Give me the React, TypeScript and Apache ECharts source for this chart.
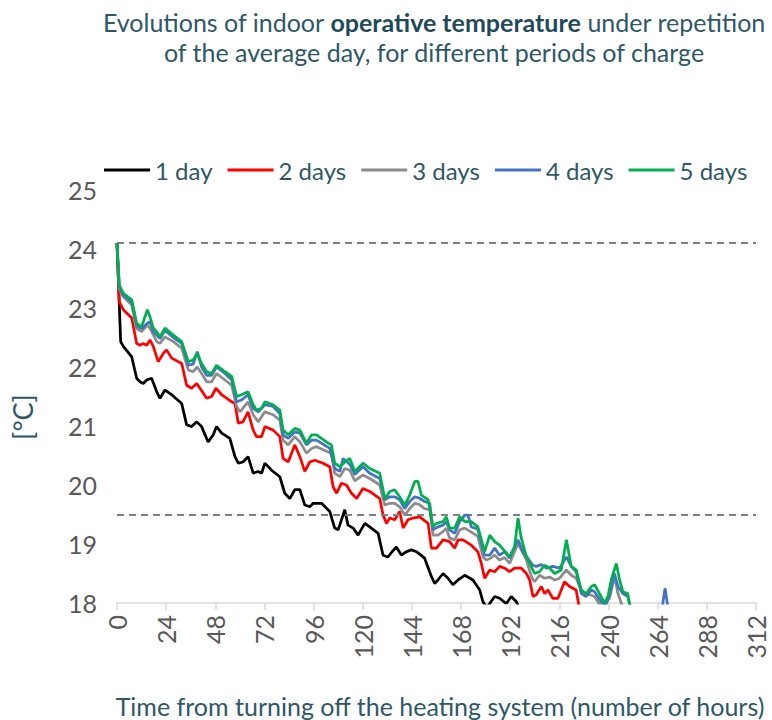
import React, { useEffect, useRef } from "react";
import * as echarts from "echarts";

const seriesNames = ["1 day", "2 days", "3 days", "4 days", "5 days"];
const seriesColors = ["#000000", "#FF0000", "#8C8C8C", "#4472C4", "#00B050"];

const titleLine1a = "Evolutions of indoor ";
const titleLine1b = "operative temperature";
const titleLine1c = " under repetition";
const titleLine2 = "of the average day, for different periods of charge";
const yName = "[°C]";
const xName = "Time from turning off the heating system (number of hours)";

const referenceLevels = [24.1, 19.5];

const oneDayHours = [0, 1.8, 3.1, 7.2, 9.6, 11.2, 12.8, 14.5, 16.9, 19.4, 21.0, 23.4, 26.7, 31.6, 34.0, 36.4, 38.9, 41.3, 44.5, 47.0, 48.6, 51.1, 55.1, 57.6, 59.2, 61.5, 64.0, 66.5, 68.9, 70.6, 72.2, 75.5, 79.5, 81.9, 84.4, 86.8, 89.3, 91.7, 94.1, 95.8, 99.9, 103.9, 106.3, 108.0, 111.2, 112.8, 115.3, 117.7, 121.0, 123.4, 127.5, 129.9, 132.3, 134.1, 136.4, 138.9, 141.3, 143.8, 146.2, 150.2, 153.5, 155.1, 156.7, 159.2, 161.6, 164.0, 166.5, 169.8, 173.8, 177.1, 178.7, 180.5, 184.4, 186.8, 190.1, 192.5, 195.0, 196.6];
const oneDayTemps = [24.1, 22.43, 22.35, 22.17, 21.81, 21.75, 21.72, 21.78, 21.81, 21.58, 21.47, 21.61, 21.53, 21.38, 21.02, 20.99, 21.07, 20.99, 20.73, 20.85, 20.99, 20.88, 20.79, 20.48, 20.37, 20.39, 20.48, 20.2, 20.23, 20.2, 20.37, 20.25, 20.14, 19.86, 19.77, 19.92, 19.92, 19.66, 19.63, 19.69, 19.69, 19.55, 19.27, 19.24, 19.58, 19.32, 19.27, 19.15, 19.35, 19.29, 19.18, 18.81, 18.78, 18.86, 18.95, 18.81, 18.87, 18.9, 18.87, 18.76, 18.45, 18.33, 18.39, 18.5, 18.42, 18.31, 18.39, 18.47, 18.39, 18.22, 18.02, 17.92, 18.11, 18.08, 17.99, 18.11, 18.02, 17.9];

const twoDaysHours = [0, 1.1, 3.1, 7.2, 9.6, 11.2, 12.8, 14.5, 16.1, 17.7, 20.1, 22.6, 24.2, 26.7, 31.6, 34.0, 36.4, 38.9, 40.5, 43.8, 46.2, 48.3, 51.1, 56.0, 57.6, 59.2, 61.5, 64.0, 66.5, 68.1, 70.6, 72.2, 76.2, 79.5, 81.1, 83.6, 86.8, 89.3, 91.7, 94.1, 96.6, 100.6, 103.9, 105.5, 107.2, 109.6, 112.0, 114.5, 117.0, 120.1, 123.4, 128.3, 129.9, 131.6, 133.2, 135.6, 138.0, 139.7, 142.1, 144.5, 147.8, 151.9, 153.5, 156.0, 159.2, 162.4, 164.9, 166.5, 168.9, 173.0, 176.2, 177.9, 179.5, 182.0, 184.4, 186.8, 189.3, 191.7, 194.1, 197.4, 199.9, 201.5, 203.1, 204.7, 207.2, 208.8, 210.4, 212.8, 215.3, 218.5, 221.0, 224.2, 225.9, 228.0];
const twoDaysTemps = [24.1, 23.11, 22.97, 22.83, 22.4, 22.37, 22.4, 22.37, 22.46, 22.35, 22.09, 22.23, 22.29, 22.15, 22.06, 21.69, 21.64, 21.72, 21.64, 21.47, 21.5, 21.64, 21.53, 21.41, 21.38, 21.05, 21.07, 21.24, 20.93, 20.82, 20.82, 20.99, 20.93, 20.82, 20.45, 20.39, 20.68, 20.48, 20.23, 20.39, 20.42, 20.37, 20.31, 19.97, 19.86, 20.03, 20.0, 19.86, 19.77, 19.94, 19.89, 19.77, 19.49, 19.35, 19.44, 19.41, 19.55, 19.27, 19.41, 19.44, 19.46, 19.35, 18.93, 18.93, 19.07, 19.04, 18.93, 19.07, 19.07, 18.98, 18.87, 18.67, 18.42, 18.56, 18.53, 18.62, 18.59, 18.53, 18.59, 18.59, 18.5, 18.39, 18.11, 18.14, 18.28, 18.16, 18.22, 18.08, 18.08, 18.36, 18.28, 18.22, 17.88, 17.7];

const threeDaysHours = [0, 1.1, 3.1, 7.2, 9.6, 12.0, 14.8, 16.1, 17.7, 19.4, 21.0, 23.4, 27.5, 31.6, 34.8, 37.2, 39.2, 41.3, 43.8, 46.2, 48.6, 52.7, 56.0, 58.4, 60.0, 64.0, 66.5, 69.0, 72.2, 76.2, 79.5, 81.1, 83.6, 86.8, 89.3, 92.5, 95.0, 97.4, 103.1, 104.7, 106.3, 108.8, 111.2, 113.7, 116.1, 120.1, 123.4, 128.3, 130.7, 133.2, 135.6, 138.0, 140.5, 142.9, 145.4, 147.5, 150.2, 152.7, 154.3, 156.7, 159.2, 160.8, 162.4, 164.9, 167.3, 169.8, 173.0, 176.2, 178.7, 180.3, 182.0, 184.4, 186.8, 189.3, 191.7, 194.1, 195.8, 197.4, 199.9, 202.3, 203.9, 206.3, 208.8, 211.2, 213.7, 216.1, 219.4, 221.8, 224.2, 226.7, 229.1, 231.0, 233.2, 234.8, 237.0, 240.5, 242.9, 244.6, 246.2, 248.0];
const threeDaysTemps = [24.1, 23.33, 23.19, 23.05, 22.65, 22.6, 22.71, 22.66, 22.55, 22.43, 22.4, 22.51, 22.43, 22.32, 21.95, 21.92, 22.0, 21.89, 21.75, 21.75, 21.89, 21.78, 21.69, 21.33, 21.24, 21.41, 21.19, 21.07, 21.24, 21.19, 21.1, 20.76, 20.68, 20.82, 20.73, 20.54, 20.62, 20.65, 20.56, 20.54, 20.2, 20.14, 20.28, 20.25, 20.07, 20.17, 20.11, 20.0, 19.66, 19.69, 19.69, 19.63, 19.49, 19.6, 19.69, 19.67, 19.6, 19.58, 19.15, 19.15, 19.21, 19.27, 19.1, 19.07, 19.24, 19.27, 19.2, 19.13, 18.78, 18.73, 18.75, 18.81, 18.73, 18.77, 18.67, 18.87, 19.01, 18.9, 18.73, 18.45, 18.36, 18.47, 18.42, 18.44, 18.39, 18.42, 18.56, 18.47, 18.42, 18.22, 18.14, 18.14, 18.11, 18.02, 17.92, 18.08, 18.45, 18.16, 18.0, 17.85];

const fourDaysHours = [0, 1.1, 3.1, 7.2, 9.6, 12.0, 14.8, 16.1, 17.7, 19.4, 21.0, 23.4, 27.5, 31.6, 34.8, 37.2, 39.2, 41.3, 43.8, 46.2, 48.6, 52.7, 56.0, 58.4, 60.8, 64.0, 66.5, 69.0, 72.2, 76.2, 79.5, 81.1, 83.6, 86.8, 89.3, 92.5, 95.0, 97.4, 103.9, 106.3, 108.8, 110.4, 113.7, 116.1, 120.1, 123.4, 128.3, 130.7, 133.2, 135.6, 138.0, 140.5, 142.9, 145.4, 147.5, 150.2, 152.7, 154.3, 156.7, 159.2, 160.8, 162.4, 164.9, 167.3, 169.8, 171.4, 173.0, 176.2, 177.1, 179.5, 182.0, 184.4, 186.8, 189.3, 191.7, 194.1, 195.8, 198.2, 200.6, 203.0, 204.7, 207.2, 209.6, 212.8, 216.1, 219.4, 221.8, 224.2, 226.7, 229.1, 231.6, 233.2, 236.4, 238.5, 240.5, 242.9, 244.6, 247.0, 249.4, 250.2, 252.0, 264.0, 266.2, 267.6, 269.0, 271.0];
const fourDaysTemps = [24.1, 23.36, 23.22, 23.1, 22.7, 22.65, 22.74, 22.77, 22.6, 22.54, 22.48, 22.62, 22.5, 22.4, 22.03, 22.05, 22.26, 22.0, 21.86, 21.86, 22.0, 21.89, 21.78, 21.41, 21.44, 21.53, 21.3, 21.24, 21.36, 21.33, 21.21, 20.85, 20.79, 20.9, 20.88, 20.68, 20.76, 20.76, 20.62, 20.28, 20.23, 20.45, 20.35, 20.18, 20.31, 20.2, 20.11, 19.75, 19.8, 19.8, 19.75, 19.6, 19.72, 19.8, 19.78, 19.72, 19.69, 19.24, 19.29, 19.32, 19.38, 19.24, 19.18, 19.38, 19.49, 19.49, 19.29, 19.25, 19.12, 18.81, 18.81, 18.93, 18.81, 18.87, 18.76, 18.95, 19.07, 18.87, 18.76, 18.64, 18.62, 18.65, 18.59, 18.62, 18.59, 18.78, 18.62, 18.53, 18.16, 18.11, 18.22, 18.19, 18.02, 17.95, 18.14, 18.5, 18.28, 18.16, 18.11, 18.0, 17.8, 17.8, 17.92, 18.25, 17.92, 17.8];

const fiveDaysHours = [0, 1.1, 3.1, 7.2, 9.6, 12.0, 14.8, 16.1, 17.7, 19.4, 21.0, 23.4, 27.5, 31.6, 34.8, 37.2, 39.2, 41.3, 43.8, 46.2, 48.6, 52.7, 56.0, 58.4, 60.8, 64.0, 66.5, 68.1, 70.6, 72.2, 76.2, 79.5, 81.1, 83.6, 86.8, 89.3, 92.5, 95.0, 97.4, 103.1, 104.7, 106.3, 108.8, 111.2, 113.7, 116.1, 120.1, 123.4, 128.3, 130.7, 133.2, 135.6, 138.0, 140.5, 142.9, 145.4, 147.0, 148.6, 151.9, 154.3, 156.0, 159.2, 160.8, 162.4, 164.9, 167.3, 169.8, 173.0, 176.2, 179.5, 182.0, 184.4, 186.8, 191.7, 194.1, 195.8, 197.4, 199.9, 201.5, 203.9, 206.3, 208.8, 211.2, 213.7, 216.9, 219.4, 221.8, 224.2, 226.7, 229.1, 231.6, 233.2, 235.6, 238.0, 239.7, 241.3, 243.8, 245.4, 247.0, 249.4, 250.2, 252.0];
const fiveDaysTemps = [24.1, 23.39, 23.25, 23.14, 22.74, 22.68, 22.97, 22.85, 22.66, 22.6, 22.51, 22.66, 22.54, 22.43, 22.09, 22.12, 22.23, 22.06, 21.92, 21.89, 22.03, 21.92, 21.84, 21.5, 21.53, 21.58, 21.36, 21.27, 21.3, 21.41, 21.36, 21.27, 20.93, 20.85, 20.96, 20.93, 20.71, 20.85, 20.85, 20.71, 20.68, 20.37, 20.31, 20.39, 20.45, 20.23, 20.37, 20.28, 20.2, 19.77, 19.89, 19.92, 19.8, 19.66, 19.83, 20.06, 20.06, 19.83, 19.75, 19.29, 19.35, 19.38, 19.46, 19.27, 19.27, 19.46, 19.38, 19.38, 19.29, 18.87, 19.15, 19.04, 18.98, 18.78, 18.95, 19.44, 19.1, 18.78, 18.67, 18.5, 18.53, 18.64, 18.59, 18.5, 18.56, 19.07, 18.62, 18.56, 18.22, 18.16, 18.28, 18.31, 18.16, 18.0, 18.11, 18.39, 18.67, 18.39, 18.19, 18.16, 17.98, 17.8];

const allHours = [oneDayHours, twoDaysHours, threeDaysHours, fourDaysHours, fiveDaysHours];
const allTemps = [oneDayTemps, twoDaysTemps, threeDaysTemps, fourDaysTemps, fiveDaysTemps];

const TEAL = "#2E5867";
const GREY_TXT = "#595959";
const FONT = "Lato, 'Open Sans', sans-serif";

export default function App() {
  const ref = useRef<HTMLDivElement>(null);
  useEffect(() => {
    if (!ref.current) return;
    const chart = echarts.init(ref.current, undefined, { renderer: "svg" });
    const series: any[] = seriesNames.map((name, i) => ({
      name,
      type: "line",
      data: allHours[i].map((h, k) => [h, allTemps[i][k]]),
      showSymbol: false,
      symbol: "none",
      clip: true,
      lineStyle: { color: seriesColors[i], width: 2.75 },
      itemStyle: { color: seriesColors[i] },
      z: 2 + i,
      markLine:
        i === 0
          ? {
              silent: true,
              symbol: ["none", "none"],
              label: { show: false },
              lineStyle: { color: "#808080", type: [7, 5], width: 2 },
              data: referenceLevels.map((v) => ({ yAxis: v })),
            }
          : undefined,
    }));
    chart.setOption({
      animation: false,
      textStyle: { fontFamily: FONT },
      grid: { left: 117, right: 16, top: 190, bottom: 117, containLabel: false },
      legend: {
        data: seriesNames,
        left: 99,
        top: 153,
        icon: "rect",
        itemWidth: 46,
        itemHeight: 3,
        itemGap: 15,
        textStyle: { color: TEAL, fontSize: 24, fontFamily: FONT },
      },
      xAxis: {
        type: "value",
        min: 0,
        max: 312,
        interval: 24,
        axisLine: { show: true, lineStyle: { color: "#D9D9D9", width: 1.5 } },
        axisTick: { show: true, length: 7, lineStyle: { color: "#D9D9D9", width: 1.5 } },
        splitLine: { show: false },
        axisLabel: { rotate: 90, fontSize: 25, color: GREY_TXT, margin: 12, fontFamily: FONT },
      },
      yAxis: {
        type: "value",
        min: 18,
        max: 25,
        interval: 1,
        axisLine: { show: false },
        axisTick: { show: false },
        splitLine: { show: false },
        axisLabel: { fontSize: 25, color: GREY_TXT, margin: 20, fontFamily: FONT },
      },
      graphic: [
        {
          type: "text",
          x: 434,
          y: 7,
          style: {
            text:
              "{a|" + titleLine1a + "}{b|" + titleLine1b + "}{a|" + titleLine1c + "}\n{a|" + titleLine2 + "}",
            textAlign: "center",
            rich: {
              a: { fontSize: 25, fontFamily: FONT, fill: TEAL, lineHeight: 30 },
              b: { fontSize: 25, fontFamily: FONT, fill: "#1F4A5A", fontWeight: "bold", lineHeight: 30 },
            },
          },
        },
        {
          type: "text",
          x: 22,
          y: 417,
          rotation: Math.PI / 2,
          style: {
            text: yName,
            textAlign: "center",
            textVerticalAlign: "middle",
            fontSize: 27,
            fontFamily: FONT,
            fill: TEAL,
          },
        },
        {
          type: "text",
          x: 440,
          y: 706,
          style: {
            text: xName,
            textAlign: "center",
            textVerticalAlign: "middle",
            fontSize: 25,
            fontFamily: FONT,
            fill: TEAL,
          },
        },
      ],
      series,
    });
    return () => chart.dispose();
  }, []);
  return (
    <div
      ref={ref}
      style={{ position: "fixed", left: 0, top: 0, width: 772, height: 720, background: "#fff" }}
    />
  );
}
